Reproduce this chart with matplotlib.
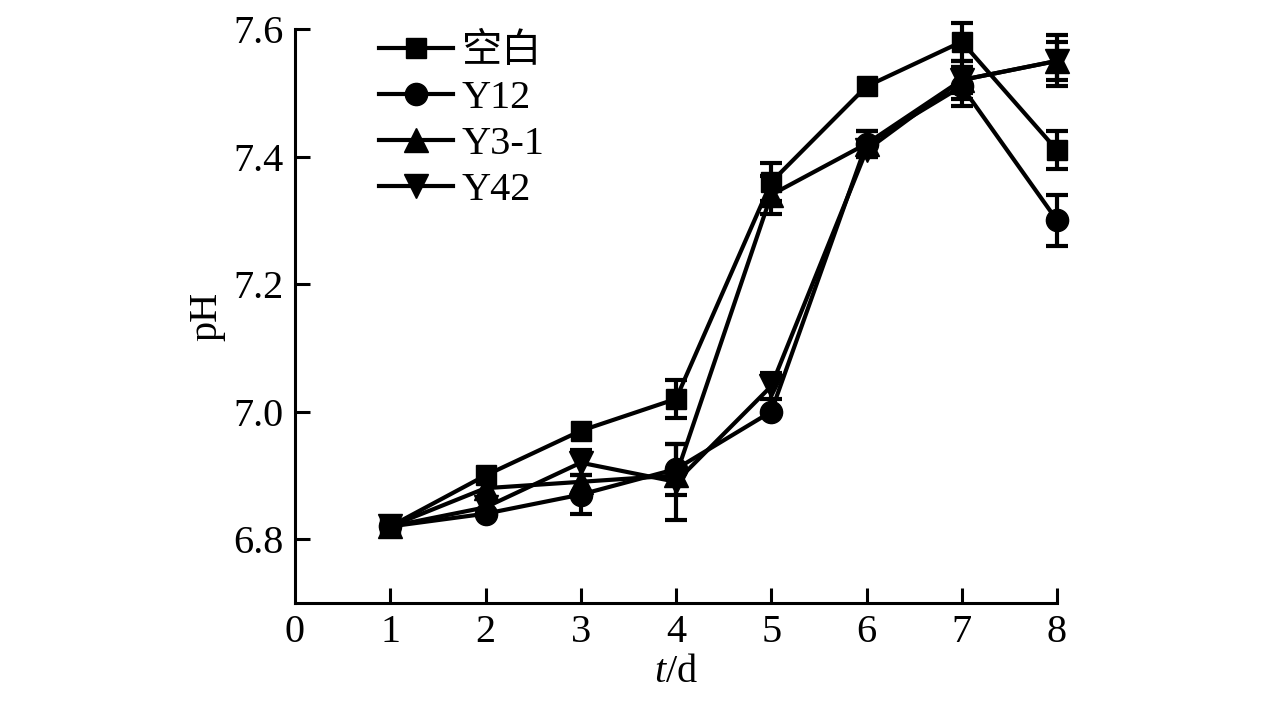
import matplotlib
matplotlib.use("Agg")
import matplotlib.pyplot as plt
from matplotlib.lines import Line2D

days = [1, 2, 3, 4, 5, 6, 7, 8]
labels = ["空白", "Y12", "Y3-1", "Y42"]
blank = [6.82, 6.90, 6.97, 7.02, 7.36, 7.51, 7.58, 7.41]
blank_err = [0.0, 0.0, 0.0, 0.03, 0.03, 0.0, 0.03, 0.03]
y12 = [6.82, 6.84, 6.87, 6.91, 7.00, 7.42, 7.51, 7.30]
y12_err = [0.0, 0.0, 0.03, 0.04, 0.0, 0.02, 0.03, 0.04]
y31 = [6.82, 6.88, 6.89, 6.90, 7.34, 7.42, 7.52, 7.55]
y31_err = [0.0, 0.0, 0.0, 0.0, 0.03, 0.02, 0.02, 0.04]
y42 = [6.82, 6.85, 6.92, 6.89, 7.04, 7.41, 7.52, 7.55]
y42_err = [0.0, 0.0, 0.02, 0.06, 0.02, 0.0, 0.03, 0.03]
xticks = [0, 1, 2, 3, 4, 5, 6, 7, 8]
yticks = [6.8, 7.0, 7.2, 7.4, 7.6]

plt.rcParams['font.family'] = ['Liberation Serif', 'Noto Sans CJK SC']
plt.rcParams['mathtext.fontset'] = 'custom'
plt.rcParams['mathtext.it'] = 'Liberation Serif:italic'
plt.rcParams['mathtext.rm'] = 'Liberation Serif'

fig = plt.figure(figsize=(12.76, 7.07), dpi=100)
ax = fig.add_axes([295/1276, 1-603/707, (1057-295)/1276, (603-29)/707])

LW = 3.0
series = [(blank, blank_err, 's', 14), (y12, y12_err, 'o', 16),
          (y31, y31_err, '^', 17), (y42, y42_err, 'v', 17)]
handles = []
for (vals, errs, mk, ms), lab in zip(series, labels):
    ax.plot(days, vals, color='black', marker=mk, markersize=ms,
            linewidth=LW, clip_on=False, zorder=3)
    idx = [i for i, e in enumerate(errs) if e > 0]
    ax.errorbar([days[i] for i in idx], [vals[i] for i in idx],
                yerr=[errs[i] for i in idx], fmt='none', ecolor='black',
                elinewidth=LW, capsize=8, capthick=LW, clip_on=False, zorder=3)
    handles.append(Line2D([], [], color='black', marker=mk, markersize=ms,
                          linewidth=LW, label=lab))

ax.set_xlim(0, 8)
ax.set_ylim(6.7, 7.6)
ax.set_xticks(xticks)
ax.set_yticks(yticks)
ax.set_yticklabels([f"{v:.1f}" for v in yticks])
for s in ['top', 'right']:
    ax.spines[s].set_visible(False)
for s in ['left', 'bottom']:
    ax.spines[s].set_linewidth(2.2)
ax.tick_params(direction='in', length=11, width=2.2, labelsize=29, pad=8)
ax.xaxis.get_major_ticks()[0].tick1line.set_visible(False)
ax.set_ylabel("pH", fontsize=29, labelpad=6)
ax.set_xlabel("$t$/d", fontsize=29, labelpad=2)

ax.legend(handles=handles, loc='upper left', bbox_to_anchor=(0.089, 1.020),
          frameon=False, fontsize=29, handlelength=1.85, handletextpad=0.2,
          labelspacing=0.22, borderaxespad=0)

fig.savefig("out.png", dpi=100)
